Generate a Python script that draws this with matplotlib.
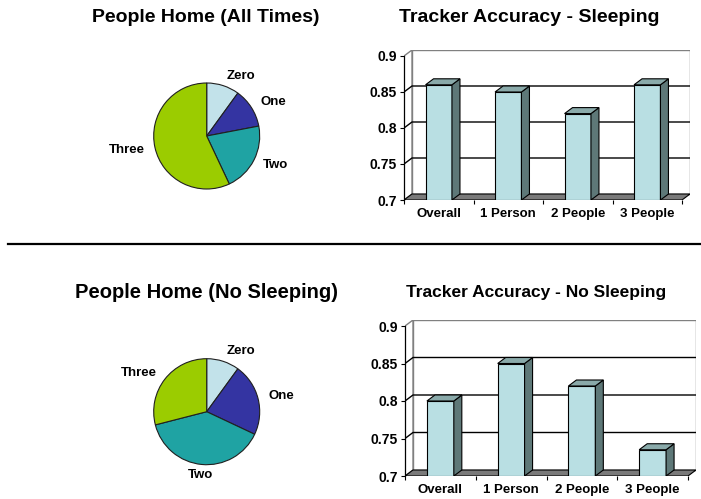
import matplotlib
matplotlib.use("Agg")
import matplotlib.pyplot as plt
from matplotlib.patches import Polygon, Rectangle
from matplotlib.lines import Line2D
import numpy as np

W, H = 701, 499

plt.rcParams['font.family'] = ['Liberation Sans', 'DejaVu Sans']
plt.rcParams['font.weight'] = 'bold'

# pie data: share of time with N people at home (%)
groups = ['Zero', 'One', 'Two', 'Three']
home_all = [10, 12, 21, 57]
home_awake = [10, 22, 39, 29]
pie_colors = ['#C2E2EA', '#3434A2', '#1FA3A3', '#9BCC00']

# tracker accuracy per group
trackers = ['Overall', '1 Person', '2 People', '3 People']
acc_sleep = [0.86, 0.85, 0.82, 0.86]
acc_awake = [0.80, 0.85, 0.82, 0.735]
acc_ticks = [0.7, 0.75, 0.8, 0.85, 0.9]
acc_labels = ['0.7', '0.75', '0.8', '0.85', '0.9']

FRONT = '#B9DFE3'
SIDE = '#5E7878'
TOP = '#8AAAAA'
FLOOR = '#7A7A7A'
WALL_EDGE = '#808080'

fig = plt.figure(figsize=(W / 100, H / 100), dpi=100)


def px_axes(x0, y0, w, h):
    # pixel box measured from the top-left corner of the figure
    return fig.add_axes([x0 / W, 1 - (y0 + h) / H, w / W, h / H])


def draw_pie(cx, cy, r, vals):
    ax = px_axes(cx - r, cy - r, 2 * r, 2 * r)
    wedges, texts = ax.pie(vals, labels=groups, colors=pie_colors,
                           startangle=90, counterclock=False,
                           labeldistance=1.2,
                           wedgeprops=dict(edgecolor='#202020', linewidth=0.8),
                           textprops=dict(fontsize=9.5, fontweight='bold'))
    # labels sitting right above/below the pie get centred on their wedge
    for w, t in zip(wedges, texts):
        ang = np.deg2rad((w.theta1 + w.theta2) / 2)
        if abs(np.cos(ang)) < 0.3:
            t.set_horizontalalignment('center')
    ax.set_xlim(-1, 1)
    ax.set_ylim(-1, 1)
    return ax, texts


def draw_bars3d(left, top, front_w, front_h, vals, dx=8, dy=6, width=0.38):
    lo, hi = acc_ticks[0], acc_ticks[-1]
    n = len(vals)
    ax = px_axes(left, top - dy, front_w + dx, front_h + dy)
    ddx = dx * n / front_w
    ddy = dy * (hi - lo) / front_h
    x0, x1 = -0.5, n - 0.5
    ax.set_xlim(x0, x1 + ddx)
    ax.set_ylim(lo, hi + ddy)

    # back and side walls
    ax.add_patch(Rectangle((x0 + ddx, lo + ddy), n, hi - lo, facecolor='white',
                           edgecolor=WALL_EDGE, lw=1, zorder=1))
    ax.add_patch(Polygon([(x0, lo), (x0 + ddx, lo + ddy), (x0 + ddx, hi + ddy), (x0, hi)],
                         closed=True, facecolor='white', edgecolor=WALL_EDGE, lw=1, zorder=1))
    for t in acc_ticks[1:-1]:
        ax.plot([x0, x0 + ddx, x1 + ddx], [t, t + ddy, t + ddy], color='black', lw=1, zorder=2)

    # floor slab
    ax.add_patch(Polygon([(x0, lo), (x1, lo), (x1 + ddx, lo + ddy), (x0 + ddx, lo + ddy)],
                         closed=True, facecolor=FLOOR, edgecolor='black', lw=0.8, zorder=3))

    xs = list(range(n))
    ax.bar(xs, [v - lo for v in vals], bottom=lo, width=width, color=FRONT,
           edgecolor='black', lw=0.8, zorder=5)
    for x, v in zip(xs, vals):
        l, r = x - width / 2, x + width / 2
        ax.add_patch(Polygon([(r, lo), (r + ddx, lo + ddy), (r + ddx, v + ddy), (r, v)],
                             closed=True, facecolor=SIDE, edgecolor='black', lw=0.8, zorder=5))
        ax.add_patch(Polygon([(l, v), (l + ddx, v + ddy), (r + ddx, v + ddy), (r, v)],
                             closed=True, facecolor=TOP, edgecolor='black', lw=0.8, zorder=5))

    # front axis line
    ax.plot([x0, x0], [lo, hi], color='black', lw=0.9, zorder=6, clip_on=False)
    for s in ax.spines.values():
        s.set_visible(False)
    ax.set_yticks(acc_ticks, acc_labels)
    ax.set_xticks(xs, trackers)
    ax.set_xticks([x0 + i for i in range(n + 1)], minor=True)
    ax.tick_params(axis='y', length=3, width=0.8, labelsize=10, pad=2)
    ax.tick_params(axis='x', which='major', length=0, labelsize=9.5, pad=6)
    ax.tick_params(axis='x', which='minor', length=3, width=0.8)
    for lab in ax.get_xticklabels() + ax.get_yticklabels():
        lab.set_fontweight('bold')
    return ax


# top row
fig.text(206 / W, 1 - 18 / H, 'People Home (All Times)', ha='center', va='center',
         fontsize=14, fontweight='bold')
fig.text(529 / W, 1 - 17 / H, 'Tracker Accuracy - Sleeping', ha='center', va='center',
         fontsize=14, fontweight='bold')
draw_pie(206.7, 136, 53, home_all)
draw_bars3d(404, 56, 278, 144, acc_sleep)

# separator
fig.add_artist(Line2D([8 / W, 1], [1 - 244 / H, 1 - 244 / H], color='black', lw=1.6))

# bottom row
fig.text(206.5 / W, 1 - 293 / H, 'People Home (No Sleeping)', ha='center', va='center',
         fontsize=14.5, fontweight='bold')
fig.text(536.5 / W, 1 - 292 / H, 'Tracker Accuracy - No Sleeping', ha='center', va='center',
         fontsize=12.5, fontweight='bold')
draw_pie(206.7, 411.7, 53, home_awake)
draw_bars3d(405, 326, 283, 150, acc_awake)

fig.savefig('out.png', dpi=100)
